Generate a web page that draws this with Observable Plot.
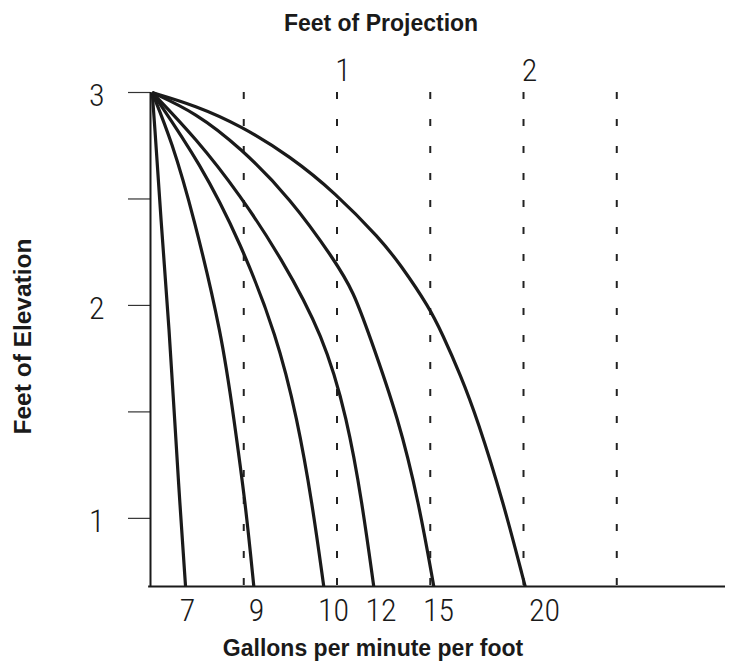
<!DOCTYPE html>
<html>
<head>
<meta charset="utf-8">
<script src="https://cdn.jsdelivr.net/npm/d3@7"></script>
<script src="https://cdn.jsdelivr.net/npm/@observablehq/plot@0.6"></script>
<style>
  body { margin: 0; background: #fff; }
</style>
</head>
<body>
<div id="chart"></div>
<script>
// Flow rates (gallons per minute per foot), one stream per rate
const gpm = [7, 9, 10, 12, 15, 20];

// Each stream: horizontal projection (ft) and elevation (ft)
const proj7  = [0.009, 0.021, 0.054, 0.103, 0.129, 0.157, 0.188];
const elev7  = [3.0, 2.868, 2.422, 1.857, 1.468, 1.073, 0.68];

const proj9  = [0.009, 0.113, 0.231, 0.384, 0.447, 0.509, 0.554];
const elev9  = [3.0, 2.774, 2.422, 1.857, 1.468, 1.073, 0.68];

const proj10 = [0.009, 0.268, 0.483, 0.678, 0.787, 0.867, 0.929];
const elev10 = [3.0, 2.666, 2.295, 1.857, 1.468, 1.073, 0.68];

const proj12 = [0.009, 0.241, 0.483, 0.697, 0.928, 1.055, 1.135, 1.197];
const elev12 = [3.0, 2.788, 2.516, 2.229, 1.857, 1.468, 1.073, 0.68];

const proj15 = [0.009, 0.241, 0.483, 0.751, 0.989, 1.088, 1.171, 1.330, 1.439, 1.519];
const elev15 = [3.0, 2.906, 2.741, 2.502, 2.210, 2.065, 1.867, 1.468, 1.073, 0.68];

const proj20 = [0.009, 0.241, 0.483, 0.751, 0.989, 1.233, 1.340, 1.496, 1.564, 1.662, 1.752, 1.893, 2.009];
const elev20 = [3.0, 2.939, 2.845, 2.699, 2.530, 2.311, 2.192, 1.989, 1.867, 1.674, 1.468, 1.073, 0.68];

// Axis ticks / labels
const elevTicks = [1, 1.5, 2, 2.5, 3];
const elevLabels = [1, 2, 3];
const projTicks = [1, 2];
const dashFeet = [0.5, 1, 1.5, 2, 2.5];
const gpmLabelFeet = [0.198, 0.568, 0.981, 1.236, 1.544, 2.113];
const gpmLabels = ["7", "9", "10", "12", "15", "20"];

const xMax = 3.083;   // right end of the ground line (ft)
const yMin = 0.68;    // ground line elevation (ft)
const yMax = 3;

const projs = [proj7, proj9, proj10, proj12, proj15, proj20];
const elevs = [elev7, elev9, elev10, elev12, elev15, elev20];
const streams = gpm.flatMap((g, k) => projs[k].map((p, i) => ({gpm: g, proj: p, elev: elevs[k][i]})));

const digitFont = "'Roboto Condensed', 'Liberation Sans Narrow', 'DejaVu Sans Condensed', Roboto, sans-serif";
const titleFont = "'Liberation Sans', Arial, Helvetica, sans-serif";

const chart = Plot.plot({
  width: 740,
  height: 666,
  marginLeft: 150,
  marginRight: 15,
  marginTop: 92,
  marginBottom: 80,
  x: {domain: [0, xMax], axis: null},
  y: {domain: [yMin, yMax], axis: null},
  style: {background: "#fff", color: "#1a1a1a", overflow: "visible"},
  marks: [
    // dashed verticals at each half foot of projection
    Plot.ruleX(dashFeet, {y1: yMax, y2: yMin, stroke: "#222", strokeWidth: 2, strokeDasharray: "7,20"}),
    // elevation axis: tick marks
    Plot.axisY({
      ticks: elevTicks,
      tickSize: 22,
      tickFormat: () => "",
      stroke: "#333",
      strokeWidth: 1.2,
      label: null
    }),
    // elevation axis: numbers
    Plot.axisY({
      ticks: elevLabels,
      tickSize: 0,
      tickPadding: 46,
      dy: 3,
      tickFormat: d => String(d),
      fontSize: 32,
      fontWeight: 300,
      fontFamily: digitFont,
      fill: "#1a1a1a",
      label: null
    }),
    Plot.ruleX([0], {y1: yMin, y2: yMax, stroke: "#1a1a1a", strokeWidth: 2}),
    Plot.ruleY([yMin], {x1: -0.01, x2: xMax, stroke: "#1a1a1a", strokeWidth: 2}),
    // streams
    Plot.line(streams, {
      x: "proj", y: "elev", z: "gpm",
      curve: "basis",
      stroke: "#1a1a1a",
      strokeWidth: 3.2,
      strokeLinecap: "butt"
    }),
    // top projection labels
    Plot.axisX({
      anchor: "top",
      ticks: projTicks,
      tickSize: 0,
      tickPadding: 12,
      dx: 6,
      tickFormat: d => String(d),
      fontSize: 32,
      fontWeight: 300,
      fontFamily: digitFont,
      fill: "#1a1a1a",
      label: null
    }),
    // bottom flow-rate labels
    Plot.axisX({
      anchor: "bottom",
      ticks: gpmLabelFeet,
      tickSize: 0,
      tickPadding: 12,
      tickFormat: (d, i) => gpmLabels[i],
      fontSize: 32,
      fontWeight: 300,
      fontFamily: digitFont,
      fill: "#1a1a1a",
      label: null
    }),
    // titles
    Plot.text(["Feet of Projection"], {
      frameAnchor: "top", dx: -57, dy: -62, lineAnchor: "bottom",
      fontSize: 23, fontWeight: "bold", fontFamily: titleFont, fill: "#1a1a1a"
    }),
    Plot.text(["Gallons per minute per foot"], {
      frameAnchor: "bottom", dx: -65, dy: 69, lineAnchor: "bottom",
      fontSize: 23, fontWeight: "bold", fontFamily: titleFont, fill: "#1a1a1a"
    }),
    Plot.text(["Feet of Elevation"], {
      frameAnchor: "left", textAnchor: "middle", dx: -127, dy: -3, rotate: -90,
      fontSize: 24.5, fontWeight: "bold", fontFamily: titleFont, fill: "#1a1a1a"
    })
  ]
});

document.getElementById("chart").append(chart);
</script>
</body>
</html>
